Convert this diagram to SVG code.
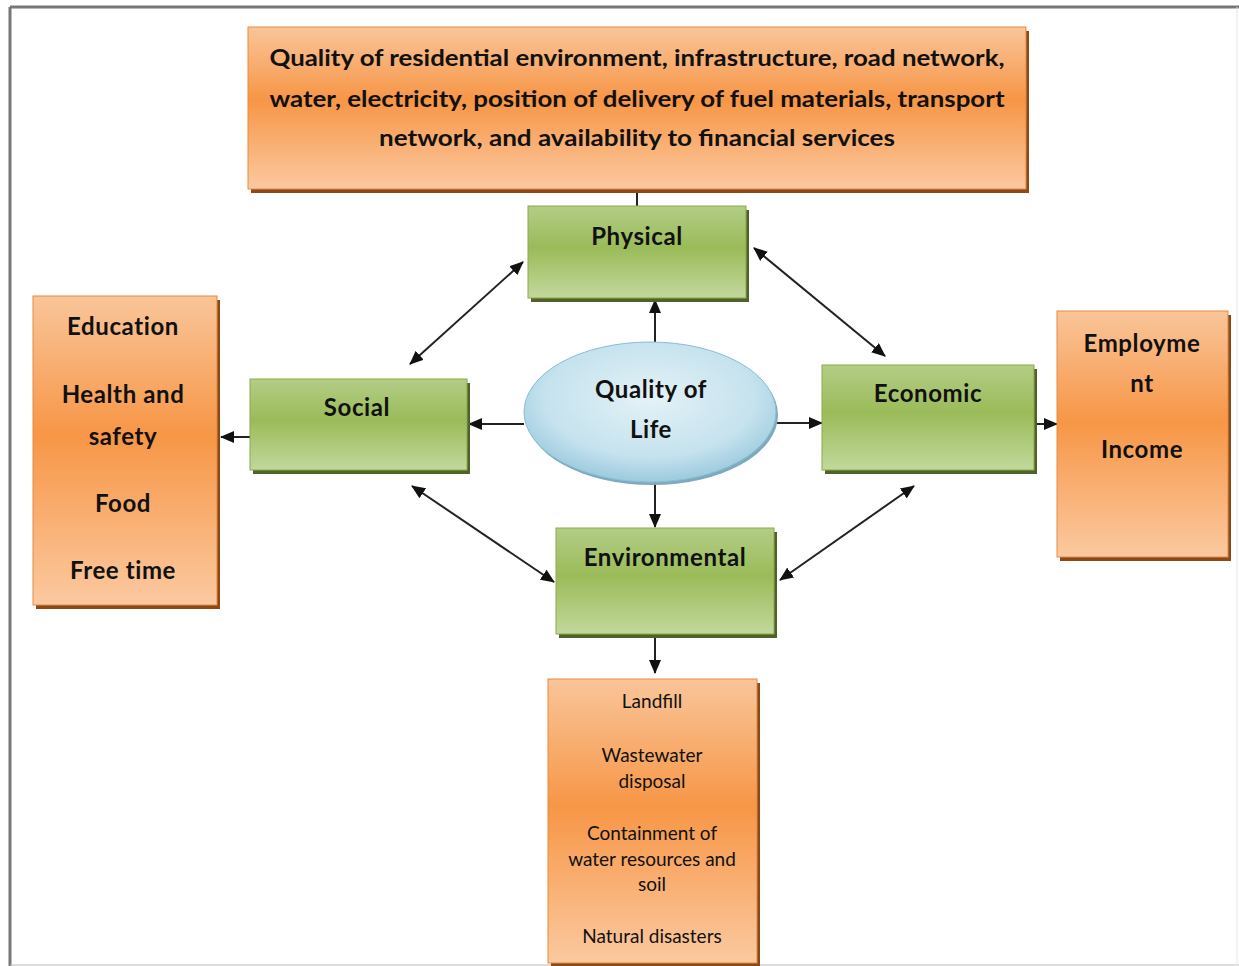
<svg xmlns="http://www.w3.org/2000/svg" width="1239" height="966" viewBox="0 0 1239 966">
<defs>
<linearGradient id="og" x1="0" y1="0" x2="0" y2="1">
<stop offset="0" stop-color="#f9c59a"/>
<stop offset="0.45" stop-color="#f79646"/>
<stop offset="1" stop-color="#fbc9a0"/>
</linearGradient>
<linearGradient id="gg" x1="0" y1="0" x2="0" y2="1">
<stop offset="0" stop-color="#b3cd86"/>
<stop offset="0.45" stop-color="#9bbb59"/>
<stop offset="1" stop-color="#c2d89c"/>
</linearGradient>
<radialGradient id="bg" cx="0.5" cy="0.4" r="0.6">
<stop offset="0" stop-color="#e4f2f7"/>
<stop offset="0.7" stop-color="#c5e2ee"/>
<stop offset="1" stop-color="#9ccade"/>
</radialGradient>
<marker id="ah" viewBox="0 0 14 12" markerWidth="14" markerHeight="12" refX="13" refY="6" orient="auto-start-reverse" markerUnits="userSpaceOnUse">
<path d="M0,0 L14,6 L0,12 z" fill="#111"/>
</marker>
<style>
.ob{fill:url(#og);stroke:#e8893f;stroke-width:1}
.os{fill:#8a4a17}
.gb{fill:url(#gg);stroke:#8aab4c;stroke-width:1}
.gs{fill:#4f6228}
.t{font-family:Lato,"Open Sans","Liberation Sans",sans-serif;font-weight:bold;fill:#111;text-anchor:middle}
.big{font-size:24px;letter-spacing:0.6px}
.top{font-size:22px;letter-spacing:0}
.small{font-size:19px;font-weight:normal}
.c{stroke:#222;stroke-width:2;fill:none}
</style>
</defs>
<rect width="1239" height="966" fill="#fff"/>
<g id="frame">
<line x1="10" y1="7" x2="1239" y2="7" stroke="#777" stroke-width="3"/>
<line x1="10" y1="7" x2="10" y2="966" stroke="#777" stroke-width="3"/>
<line x1="10" y1="965" x2="1239" y2="965" stroke="#bbb" stroke-width="1"/>
<line x1="1237" y1="7" x2="1237" y2="966" stroke="#e6e6e6" stroke-width="1"/>
</g>
<g id="connectors">
<line class="c" x1="637" y1="190" x2="637" y2="207"/>
<line class="c" x1="655" y1="342" x2="655" y2="300" marker-end="url(#ah)"/>
<line class="c" x1="524" y1="424" x2="469" y2="424" marker-end="url(#ah)"/>
<line class="c" x1="250" y1="437" x2="221" y2="437" marker-end="url(#ah)"/>
<line class="c" x1="777" y1="423" x2="822" y2="423" marker-end="url(#ah)"/>
<line class="c" x1="1036" y1="424" x2="1057" y2="424" marker-end="url(#ah)"/>
<line class="c" x1="655" y1="484" x2="655" y2="527" marker-end="url(#ah)"/>
<line class="c" x1="655" y1="638" x2="655" y2="673" marker-end="url(#ah)"/>
<line class="c" x1="410" y1="364" x2="523" y2="262" marker-start="url(#ah)" marker-end="url(#ah)"/>
<line class="c" x1="754" y1="248" x2="885" y2="356" marker-start="url(#ah)" marker-end="url(#ah)"/>
<line class="c" x1="412" y1="486" x2="554" y2="582" marker-start="url(#ah)" marker-end="url(#ah)"/>
<line class="c" x1="914" y1="486" x2="780" y2="580" marker-start="url(#ah)" marker-end="url(#ah)"/>
</g>
<g id="top-box">
<rect class="os" x="251" y="31" width="778" height="162"/>
<rect class="ob" x="248" y="27" width="778" height="162"/>
<text class="t top" x="637" y="66" textLength="735" lengthAdjust="spacingAndGlyphs">Quality of residential environment, infrastructure, road network,</text>
<text class="t top" x="637" y="107" textLength="735" lengthAdjust="spacingAndGlyphs">water, electricity, position of delivery of fuel materials, transport</text>
<text class="t top" x="637" y="146" textLength="516" lengthAdjust="spacingAndGlyphs">network, and availability to financial services</text>
</g>
<g id="physical">
<rect class="gs" x="531" y="210" width="218" height="92"/>
<rect class="gb" x="528" y="206" width="218" height="92"/>
<text class="t big" x="637" y="245">Physical</text>
</g>
<g id="quality-of-life">
<ellipse cx="652" cy="415" rx="126" ry="70" fill="#7fa9bd"/>
<ellipse cx="650" cy="412" rx="126" ry="70" fill="url(#bg)" stroke="#8bbdd2" stroke-width="1"/>
<text class="t big" x="651" y="398">Quality of</text>
<text class="t big" x="651" y="438">Life</text>
</g>
<g id="social">
<rect class="gs" x="253" y="383" width="217" height="91"/>
<rect class="gb" x="250" y="379" width="217" height="91"/>
<text class="t big" x="357" y="416">Social</text>
</g>
<g id="economic">
<rect class="gs" x="825" y="369" width="212" height="105"/>
<rect class="gb" x="822" y="365" width="212" height="105"/>
<text class="t big" x="928" y="402">Economic</text>
</g>
<g id="environmental">
<rect class="gs" x="559" y="532" width="218" height="106"/>
<rect class="gb" x="556" y="528" width="218" height="106"/>
<text class="t big" x="665" y="566">Environmental</text>
</g>
<g id="social-box">
<rect class="os" x="36" y="300" width="184" height="309"/>
<rect class="ob" x="33" y="296" width="184" height="309"/>
<text class="t big" x="123" y="335">Education</text>
<text class="t big" x="123" y="403">Health and</text>
<text class="t big" x="123" y="445">safety</text>
<text class="t big" x="123" y="512">Food</text>
<text class="t big" x="123" y="579">Free time</text>
</g>
<g id="economic-box">
<rect class="os" x="1060" y="315" width="171" height="246"/>
<rect class="ob" x="1057" y="311" width="171" height="246"/>
<text class="t big" x="1142" y="352">Employme</text>
<text class="t big" x="1142" y="392">nt</text>
<text class="t big" x="1142" y="458">Income</text>
</g>
<g id="environmental-box">
<rect class="os" x="551" y="683" width="209" height="283"/>
<rect class="ob" x="548" y="679" width="209" height="284"/>
<text class="t small" x="652" y="708">Landfill</text>
<text class="t small" x="652" y="762">Wastewater</text>
<text class="t small" x="652" y="788">disposal</text>
<text class="t small" x="652" y="840">Containment of</text>
<text class="t small" x="652" y="866">water resources and</text>
<text class="t small" x="652" y="891">soil</text>
<text class="t small" x="652" y="943">Natural disasters</text>
</g>
</svg>
